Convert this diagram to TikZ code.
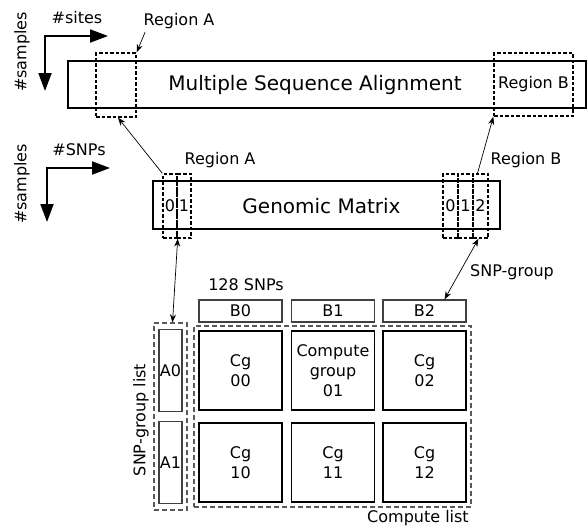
\documentclass[tikz,border=0pt]{standalone}
\usepackage{fontspec}
\setmainfont{DejaVu Sans}
\usetikzlibrary{arrows.meta}

\begin{document}
\begin{tikzpicture}[
    x=1pt, y=-1pt,
    font=\fontsize{16}{20}\selectfont,
    bigbox/.style={
        rectangle, draw, line width=2pt, inner sep=0pt
    },
    region/.style={
        rectangle, draw, line width=1.4pt, inner sep=0pt,
        dash pattern=on 3.5pt off 2pt
    },
    cell/.style={
        rectangle, draw, line width=1.4pt, inner sep=0pt,
        dash pattern=on 3.5pt off 2pt, minimum width=14pt, minimum height=64pt
    },
    cgbox/.style={
        rectangle, draw, line width=1.5pt, align=center,
        minimum width=83pt, minimum height=79pt, inner sep=0pt
    },
    bbox/.style={
        rectangle, draw=black!75, line width=1.2pt,
        minimum width=83pt, minimum height=22pt, inner sep=0pt
    },
    abox/.style={
        rectangle, draw=black!75, line width=1.2pt,
        minimum width=23pt, minimum height=82pt, inner sep=0pt
    },
    group/.style={
        rectangle, draw=black!65, line width=1.2pt, inner sep=0pt,
        dash pattern=on 5pt off 3pt
    },
    axis/.style={{Triangle[length=18pt,width=13pt]}-{Triangle[length=18pt,width=13pt]}, line width=2pt},
    conn/.style={-{Stealth[length=8pt,width=6pt]}, line width=0.7pt},
    bconn/.style={{Stealth[length=8pt,width=6pt]}-{Stealth[length=8pt,width=6pt]}, line width=0.7pt},
]

    \useasboundingbox (0,0) rectangle (588,525);

    % Column x-coordinates of the compute grid.
    \def\xA{170.5}
    \def\xC{240.5}
    \def\xD{333}
    \def\xE{424.5}

    % Row y-coordinates of the compute grid.
    \def\yB{311}
    \def\yUno{370.5}
    \def\yDos{462.5}

    % ---------- axes ----------
    \coordinate (ax1) at (45,36);
    \coordinate (ax1-x) at (108,36);
    \coordinate (ax1-y) at (45,91);
    \draw[axis] (ax1-x) -- (ax1) -- (ax1-y);
    \node (sites) at (77,18) {\#sites};
    \node[rotate=90] (samples1) at (22,52) {\#samples};

    \coordinate (ax2) at (47,168);
    \coordinate (ax2-x) at (110,168);
    \coordinate (ax2-y) at (47,222);
    \draw[axis] (ax2-x) -- (ax2) -- (ax2-y);
    \node (snps) at (79,150) {\#SNPs};
    \node[rotate=90] (samples2) at (22,184) {\#samples};

    % ---------- Multiple Sequence Alignment ----------
    \node[bigbox, minimum width=518pt, minimum height=47pt] (msa) at (327,84.5) {};
    \node[font=\fontsize{20}{24}\selectfont] (msa-txt) at (315,85) {Multiple Sequence Alignment};
    \node[region, minimum width=40pt, minimum height=64pt] (msa-a) at (116,85) {};
    \node[region, minimum width=79pt, minimum height=63pt] (msa-b) at (533.5,84.5) {Region B};
    \node (lbl-a1) at (179,21) {Region A};
    \draw[conn] ([xshift=5pt]lbl-a1.south west) -- (msa-a.north east);

    % ---------- Genomic Matrix ----------
    \node[bigbox, minimum width=347pt, minimum height=48pt] (gen) at (326.5,205) {};
    \node[font=\fontsize{20}{24}\selectfont] (gen-txt) at (321.5,206) {Genomic Matrix};
    \node[cell] (ga0) at (170,206) {0};
    \node[cell] (ga1) at (184,206) {1};
    \node[cell, minimum width=15pt] (gb0) at (450.5,206) {0};
    \node[cell, minimum width=15pt] (gb1) at (465.5,206) {1};
    \node[cell, minimum width=15pt] (gb2) at (480.5,206) {2};
    \node (lbl-a2) at (220,160) {Region A};
    \node (lbl-b2) at (526,160) {Region B};

    \draw[conn] (ga0.north west) -- ([xshift=2pt]msa-a.south);
    \draw[conn] ([xshift=-3pt]gb2.north) -- (msa-b.south west);

    % ---------- compute grid ----------
    \node (snp128) at (246,285) {128 SNPs};
    \node[bbox] (b0) at (\xC,\yB) {B0};
    \node[bbox] (b1) at (\xD,\yB) {B1};
    \node[bbox] (b2) at (\xE,\yB) {B2};

    \node[group, minimum width=33pt, minimum height=187pt] (alist) at (\xA,416.5) {};
    \node[abox] (a0) at (\xA,\yUno) {A0};
    \node[abox] (a1) at (\xA,\yDos) {A1};
    \node[rotate=90] (alist-txt) at (141,420) {SNP-group list};

    \node[group, minimum width=277pt, minimum height=181pt] (clist) at (332.5,416.5) {};
    \node[cgbox] (cg00) at (\xC,\yUno) {Cg\\00};
    \node[cgbox] (cg01) at (\xD,\yUno) {Compute\\group\\01};
    \node[cgbox] (cg02) at (\xE,\yUno) {Cg\\02};
    \node[cgbox] (cg10) at (\xC,\yDos) {Cg\\10};
    \node[cgbox] (cg11) at (\xD,\yDos) {Cg\\11};
    \node[cgbox] (cg12) at (\xE,\yDos) {Cg\\12};
    \node (clist-txt) at (418,518) {Compute list};

    % ---------- links to the grid ----------
    \node (lbl-grp) at (512,272) {SNP-group};
    \draw[bconn] (ga0.south east) -- ([xshift=2pt]alist.north);
    \draw[bconn] ([xshift=-2pt]gb2.south) -- ([xshift=20pt]b2.north);

\end{tikzpicture}
\end{document}
